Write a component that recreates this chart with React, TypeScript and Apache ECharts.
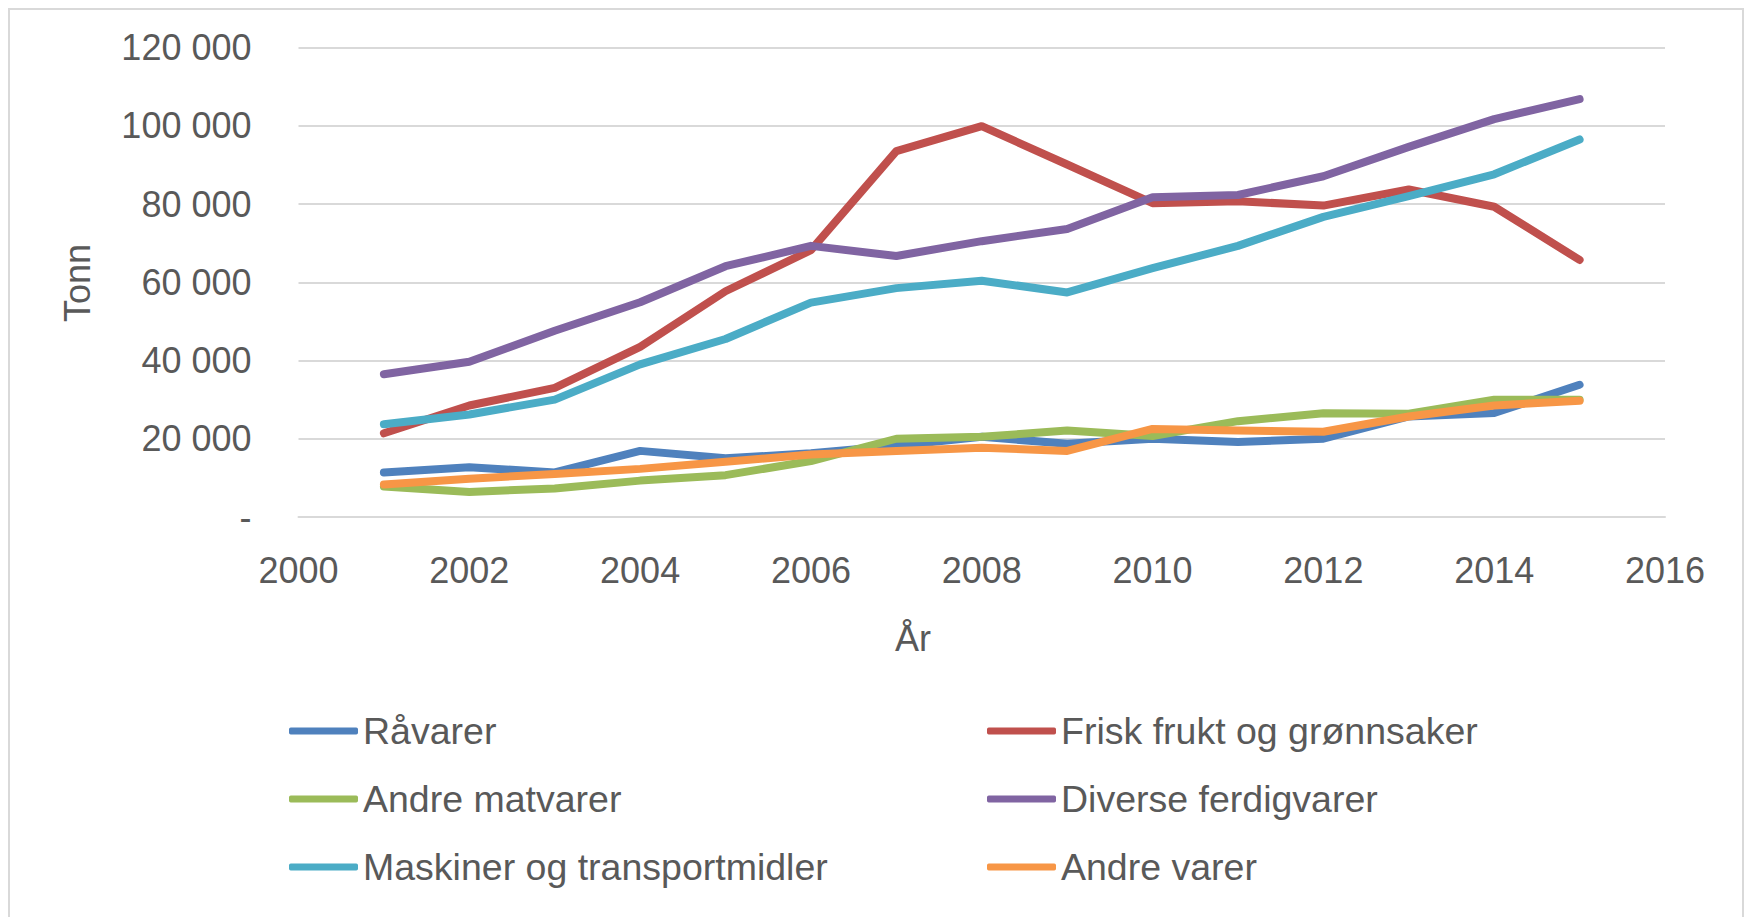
import React, { useEffect, useRef } from "react";
import * as echarts from "echarts";

const years = [2001, 2002, 2003, 2004, 2005, 2006, 2007, 2008, 2009, 2010, 2011, 2012, 2013, 2014, 2015];

const ravarer = [11400, 12700, 11400, 16900, 15000, 16300, 18200, 20500, 18700, 20000, 19200, 20000, 25700, 26600, 33800];
const friskFrukt = [21400, 28500, 33000, 43500, 57700, 68200, 93500, 99900, 90100, 80200, 80700, 79600, 83700, 79300, 65700];
const andreMatvarer = [7800, 6400, 7300, 9300, 10700, 14300, 20000, 20500, 22100, 20700, 24500, 26500, 26400, 30000, 30000];
const diverseFerdigvarer = [36500, 39700, 47600, 54900, 64100, 69300, 66700, 70500, 73600, 81700, 82300, 87100, 94600, 101700, 106800];
const maskiner = [23700, 26200, 30000, 39000, 45500, 54800, 58500, 60400, 57400, 63600, 69300, 76700, 82000, 87600, 96500];
const andreVarer = [8300, 9800, 11000, 12300, 14100, 16000, 16900, 17700, 16900, 22500, 22100, 21800, 25700, 28500, 29700];

const seriesNames = [
  "Råvarer",
  "Frisk frukt og grønnsaker",
  "Andre matvarer",
  "Diverse ferdigvarer",
  "Maskiner og transportmidler",
  "Andre varer",
];
const seriesValues = [ravarer, friskFrukt, andreMatvarer, diverseFerdigvarer, maskiner, andreVarer];
const seriesColors = ["#4F81BD", "#C0504D", "#9BBB59", "#8064A2", "#4BACC6", "#F79646"];

const legendLeft = ["Råvarer", "Andre matvarer", "Maskiner og transportmidler"];
const legendRight = ["Frisk frukt og grønnsaker", "Diverse ferdigvarer", "Andre varer"];

const yAxisTitle = "Tonn";
const xAxisTitle = "År";

const FONT = "'Liberation Sans', Arial, sans-serif";
const TEXT_COLOR = "#595959";

function formatThousands(v: number): string {
  if (v === 0) return "-";
  return String(v).replace(/\B(?=(\d{3})+(?!\d))/g, " ");
}

export default function App() {
  const ref = useRef<HTMLDivElement>(null);

  useEffect(() => {
    document.body.style.margin = "0";
    if (!ref.current) return;
    const chart = echarts.init(ref.current, undefined, { renderer: "svg" });

    const legendCommon = {
      orient: "vertical" as const,
      top: 711,
      padding: 0,
      itemGap: 28,
      itemWidth: 69,
      itemHeight: 7,
      icon: "roundRect",
      selectedMode: false,
      textStyle: {
        fontFamily: FONT,
        fontSize: 37.5,
        color: TEXT_COLOR,
        lineHeight: 40,
      },
    };

    chart.setOption({
      animation: false,
      backgroundColor: "#ffffff",
      grid: { left: 298.5, right: 83, top: 47.5, bottom: 400, containLabel: false },
      xAxis: {
        type: "value",
        min: 2000,
        max: 2016,
        interval: 2,
        axisLine: { show: true, lineStyle: { color: "#d9d9d9", width: 2 } },
        axisTick: { show: false },
        splitLine: { show: false },
        axisLabel: {
          margin: 35,
          fontFamily: FONT,
          fontSize: 36,
          color: TEXT_COLOR,
          formatter: (v: number) => String(v),
        },
      },
      yAxis: {
        type: "value",
        min: 0,
        max: 120000,
        interval: 20000,
        axisLine: { show: false },
        axisTick: { show: false },
        splitLine: { show: true, lineStyle: { color: "#d9d9d9", width: 2 } },
        axisLabel: {
          margin: 47,
          fontFamily: FONT,
          fontSize: 36,
          color: TEXT_COLOR,
          formatter: (v: number) => formatThousands(v),
        },
      },
      legend: [
        { ...legendCommon, left: 289, data: legendLeft },
        { ...legendCommon, left: 987, data: legendRight },
      ],
      series: seriesNames.map((name, i) => ({
        name,
        type: "line",
        data: years.map((y, j) => [y, seriesValues[i][j]]),
        showSymbol: false,
        symbol: "none",
        color: seriesColors[i],
        lineStyle: { width: 8, color: seriesColors[i], cap: "round", join: "round" },
        itemStyle: { color: seriesColors[i] },
        emphasis: { disabled: true },
      })),
      graphic: [
        {
          type: "rect",
          shape: { x: 9, y: 9, width: 1734, height: 1000 },
          style: { fill: "none", stroke: "#d9d9d9", lineWidth: 2 },
          silent: true,
          z: -10,
        },
        {
          type: "text",
          x: 77,
          y: 283,
          rotation: Math.PI / 2,
          style: {
            text: yAxisTitle,
            font: `36px ${FONT}`,
            fill: TEXT_COLOR,
            align: "center",
            verticalAlign: "middle",
            textAlign: "center",
            textVerticalAlign: "middle",
          },
        },
        {
          type: "text",
          x: 913,
          y: 638,
          style: {
            text: xAxisTitle,
            font: `36px ${FONT}`,
            fill: TEXT_COLOR,
            align: "center",
            verticalAlign: "middle",
            textAlign: "center",
            textVerticalAlign: "middle",
          },
        },
      ],
    });

    return () => chart.dispose();
  }, []);

  return <div ref={ref} style={{ width: 1748, height: 917 }} />;
}
